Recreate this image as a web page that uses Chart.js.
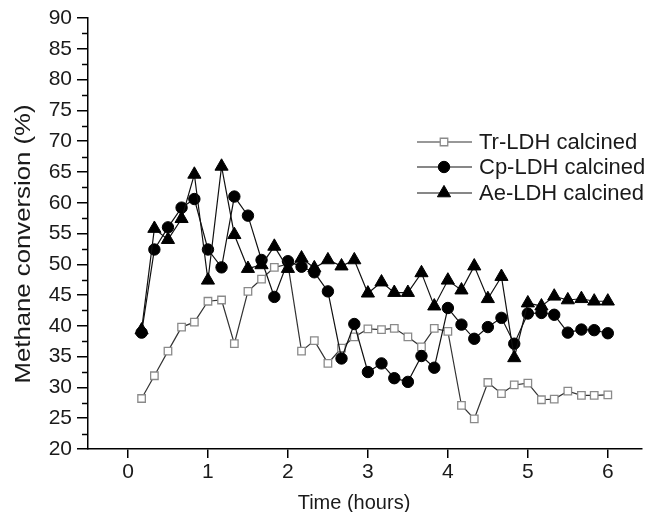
<!DOCTYPE html>
<html><head><meta charset="utf-8">
<script src="https://cdn.jsdelivr.net/npm/chart.js@4"></script>
<style>html,body{margin:0;padding:0;background:#fff}#wrap{width:650px;height:512px;position:relative}</style>
</head><body><div id="wrap"><canvas id="c" width="650" height="512"></canvas></div>
<script>
// Time (hours)
const times = [0.17,0.33,0.5,0.67,0.83,1.0,1.17,1.33,1.5,1.67,1.83,2.0,2.17,2.33,2.5,2.67,2.83,3.0,3.17,3.33,3.5,3.67,3.83,4.0,4.17,4.33,4.5,4.67,4.83,5.0,5.17,5.33,5.5,5.67,5.83,6.0];
// Methane conversion (%)
const trValues = [28.2,31.9,35.9,39.8,40.6,44.0,44.2,37.1,45.6,47.6,49.5,50.0,35.9,37.6,33.9,36.4,38.2,39.5,39.4,39.6,38.2,36.6,39.6,39.1,27.1,24.9,30.8,29.0,30.4,30.7,28.0,28.1,29.4,28.7,28.7,28.8];
const cpValues = [38.9,52.4,56.0,59.2,60.6,52.4,49.5,61.0,57.9,50.7,44.7,50.5,49.6,48.7,45.6,34.7,40.3,32.5,33.9,31.5,30.9,35.1,33.2,42.9,40.2,37.9,39.8,41.3,37.1,42.0,42.1,41.8,38.9,39.4,39.3,38.8];
const aeValues = [39.3,55.8,54.0,57.4,64.6,47.4,65.9,54.8,49.3,49.9,52.9,49.3,51.0,49.4,50.7,49.7,50.7,45.3,47.1,45.4,45.4,48.6,43.2,47.4,45.8,49.7,44.4,48.0,34.8,43.7,43.2,44.8,44.2,44.4,44.0,44.0];
const seriesNames = ['Tr-LDH calcined','Cp-LDH calcined','Ae-LDH calcined'];
const xTickValues = [0,1,2,3,4,5,6];
const yMinorTickValues = [22.5,27.5,32.5,37.5,42.5,47.5,52.5,57.5,62.5,67.5,72.5,77.5,82.5,87.5];
const xTitle = 'Time (hours)';
const yTitle = 'Methane conversion (%)';

const FONT = '"Liberation Sans", Arial, Helvetica, sans-serif';
const INK = '#1a1a1a';
const toPts = (vals) => times.map((t, i) => ({x: t, y: vals[i]}));

const styles = [
  {pointStyle:'rect', radius:5.3, bg:'#ffffff', border:'#8a8a8a', line:'#333333', bw:1.3},
  {pointStyle:'circle', radius:5.7, bg:'#000000', border:'#000000', line:'#111111', bw:1},
  {pointStyle:'triangle', radius:7.6, bg:'#000000', border:'#000000', line:'#111111', bw:1}
];
const seriesValues = [trValues, cpValues, aeValues];

const datasets = seriesValues.map((vals, i) => ({
  label: seriesNames[i],
  data: toPts(vals),
  borderColor: styles[i].line,
  borderWidth: 1.2,
  pointStyle: styles[i].pointStyle,
  pointRadius: styles[i].radius,
  pointBackgroundColor: styles[i].bg,
  pointBorderColor: styles[i].border,
  pointBorderWidth: styles[i].bw,
  tension: 0,
  order: 3 - i
}));

const extras = {
  id: 'extras',
  afterDraw(chart) {
    const ctx = chart.ctx, y = chart.scales.y, a = chart.chartArea;
    ctx.save();
    // minor ticks on y axis
    ctx.strokeStyle = '#000'; ctx.lineWidth = 1.5;
    yMinorTickValues.forEach(v => {
      const py = Math.round(y.getPixelForValue(v)) + 0.5;
      ctx.beginPath(); ctx.moveTo(a.left - 6, py); ctx.lineTo(a.left, py); ctx.stroke();
    });
    // axis titles
    ctx.fillStyle = INK; ctx.textAlign = 'center'; ctx.textBaseline = 'middle';
    ctx.font = '20px ' + FONT;
    ctx.fillText(xTitle, 354, 503);
    ctx.save();
    ctx.translate(24, 244); ctx.rotate(-Math.PI / 2); ctx.scale(1.17, 1);
    ctx.font = '22px ' + FONT;
    ctx.fillText(yTitle, 0, 0);
    ctx.restore();
    // legend
    const rows = [142, 167, 193];
    chart.data.datasets.forEach((ds, i) => {
      const yy = rows[i];
      ctx.strokeStyle = ds.borderColor; ctx.lineWidth = 1.2;
      ctx.beginPath(); ctx.moveTo(417, yy); ctx.lineTo(472, yy); ctx.stroke();
      ctx.fillStyle = ds.pointBackgroundColor; ctx.strokeStyle = ds.pointBorderColor; ctx.lineWidth = ds.pointBorderWidth;
      Chart.helpers.drawPoint(ctx, {pointStyle: ds.pointStyle, rotation: 0, radius: ds.pointRadius, borderWidth: ds.pointBorderWidth}, 444, yy);
      ctx.fillStyle = INK; ctx.font = '22px ' + FONT; ctx.textBaseline = 'middle'; ctx.textAlign = 'left';
      ctx.fillText(ds.label, 479, yy + 1);
    });
    ctx.restore();
  }
};

new Chart(document.getElementById('c'), {
  type: 'line',
  data: { datasets },
  options: {
    responsive: false,
    animation: false,
    devicePixelRatio: 1,
    layout: { padding: { top: 18, right: 0, bottom: 0, left: 0 } },
    plugins: { legend: { display: false }, tooltip: { enabled: false } },
    scales: {
      x: {
        type: 'linear', min: -0.5, max: 6.42,
        afterBuildTicks: (s) => { s.ticks = xTickValues.map(v => ({value: v})); },
        afterFit: (s) => { s.height = 63; },
        ticks: { color: INK, font: { family: FONT, size: 21 }, padding: 2, maxRotation: 0, autoSkip: false },
        grid: { display: true, drawOnChartArea: false, drawTicks: true, tickLength: 9, color: '#000', lineWidth: 1.5 },
        border: { display: true, color: '#000', width: 1.5 }
      },
      y: {
        min: 20, max: 90,
        ticks: { stepSize: 5, color: INK, font: { family: FONT, size: 21 }, padding: 5 },
        afterFit: (s) => { s.width = 88; },
        grid: { display: true, drawOnChartArea: false, drawTicks: true, tickLength: 11, color: '#000', lineWidth: 1.5 },
        border: { display: true, color: '#000', width: 1.5 }
      }
    }
  },
  plugins: [extras]
});
</script></body></html>
